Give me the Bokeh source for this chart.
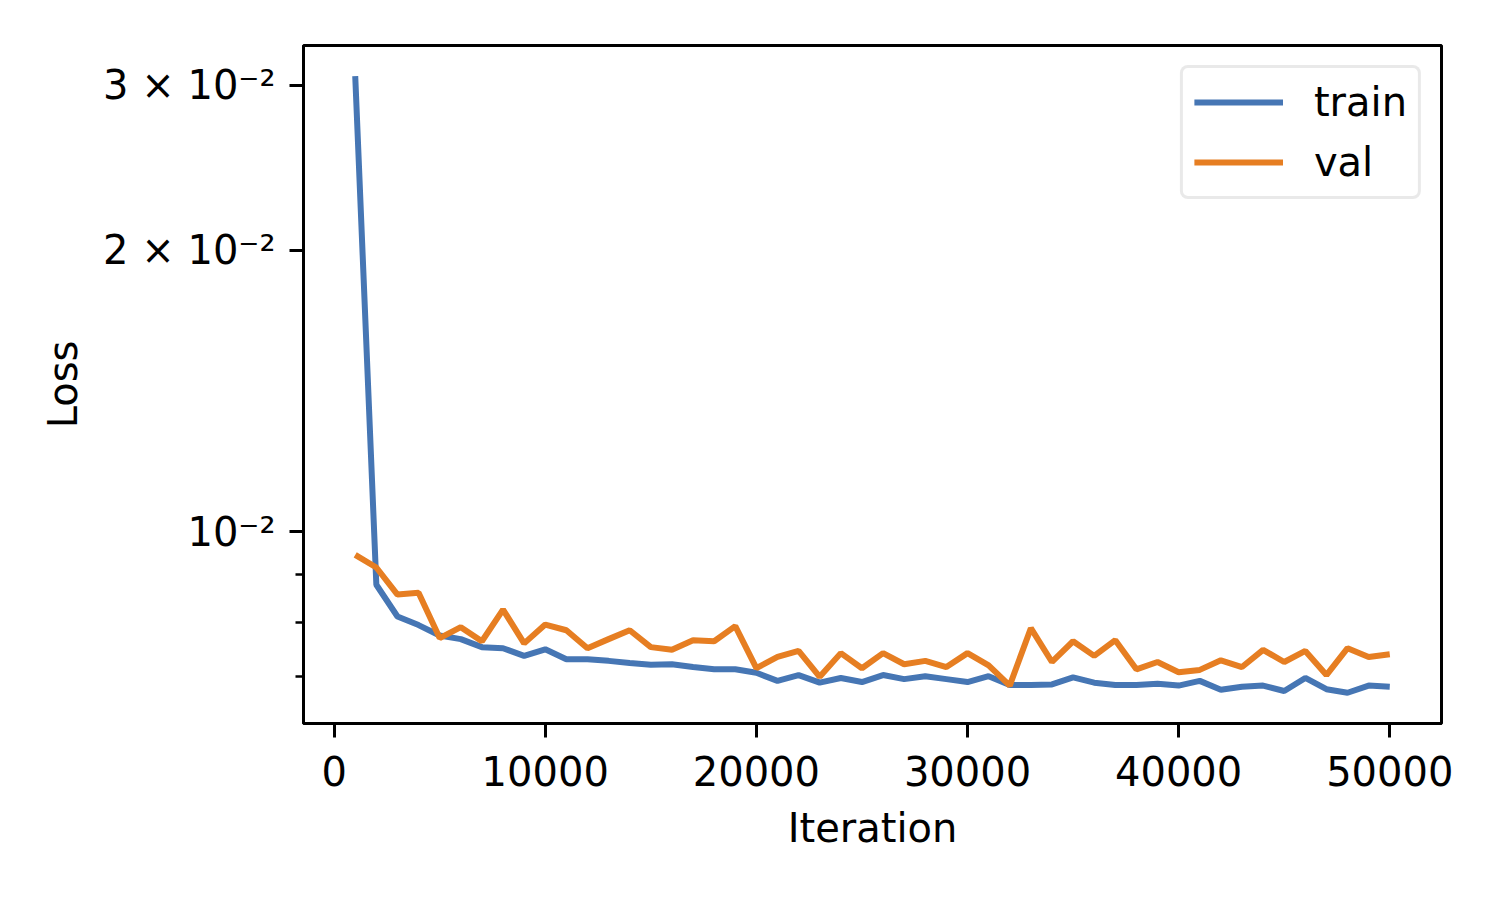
from bokeh.plotting import figure
from bokeh.models import (Range1d, FixedTicker, CustomJSTickFormatter, Legend, LegendItem)
from bokeh.embed import file_html
from bokeh.resources import INLINE

iterations = [1000, 2000, 3000, 4000, 5000, 6000, 7000, 8000, 9000, 10000,
              11000, 12000, 13000, 14000, 15000, 16000, 17000, 18000, 19000, 20000,
              21000, 22000, 23000, 24000, 25000, 26000, 27000, 28000, 29000, 30000,
              31000, 32000, 33000, 34000, 35000, 36000, 37000, 38000, 39000, 40000,
              41000, 42000, 43000, 44000, 45000, 46000, 47000, 48000, 49000, 50000]

train_loss = [0.0307, 0.00878, 0.00812, 0.00795, 0.00775, 0.00768, 0.00753, 0.00751, 0.00737, 0.00749,
              0.00731, 0.00731, 0.00728, 0.00724, 0.00721, 0.00722, 0.00717, 0.00713, 0.00713, 0.00707,
              0.00693, 0.00703, 0.00690, 0.00698, 0.00691, 0.00703, 0.00696, 0.00701, 0.00696, 0.00691,
              0.00701, 0.00686, 0.00686, 0.00687, 0.00699, 0.00690, 0.00686, 0.00686, 0.00688, 0.00685,
              0.00693, 0.00678, 0.00683, 0.00685, 0.00676, 0.00698, 0.00679, 0.00673, 0.00685, 0.00683]

val_loss = [0.00945, 0.00916, 0.00857, 0.00861, 0.00770, 0.00791, 0.00764, 0.00826, 0.00760, 0.00796,
            0.00785, 0.00751, 0.00768, 0.00785, 0.00753, 0.00748, 0.00766, 0.00764, 0.00793, 0.00715,
            0.00735, 0.00746, 0.00700, 0.00742, 0.00715, 0.00742, 0.00722, 0.00728, 0.00717, 0.00742,
            0.00720, 0.00685, 0.00789, 0.00726, 0.00764, 0.00737, 0.00766, 0.00713, 0.00726, 0.00708,
            0.00712, 0.00729, 0.00717, 0.00748, 0.00726, 0.00746, 0.00703, 0.00751, 0.00735, 0.00740]

x_ticks = [0, 10000, 20000, 30000, 40000, 50000]
y_major_ticks = [0.01, 0.02, 0.03]
y_major_labels = ["10\u207b\u00b2", "2 \u00d7 10\u207b\u00b2", "3 \u00d7 10\u207b\u00b2"]
y_minor_ticks = [0.007, 0.008, 0.009]

FONT = "DejaVu Sans"
BLUE = "#4676b4"
ORANGE = "#e67e22"

p = figure(width=1500, height=900, y_axis_type="log",
           x_range=Range1d(-1450, 52450), y_range=Range1d(0.00624, 0.0331),
           output_backend="svg", toolbar_location=None,
           min_border_left=303, min_border_right=59, min_border_top=45, min_border_bottom=177,
           background_fill_color="white", border_fill_color="white")

p.grid.visible = False
p.outline_line_color = "black"
p.outline_line_width = 3

r1 = p.line(iterations, train_loss, line_color=BLUE, line_width=6)
r2 = p.line(iterations, val_loss, line_color=ORANGE, line_width=6)

xa = p.xaxis[0]
xa.ticker = FixedTicker(ticks=x_ticks, minor_ticks=[])
ya = p.yaxis[0]
ya.ticker = FixedTicker(ticks=y_major_ticks, minor_ticks=y_minor_ticks)
ya.formatter = CustomJSTickFormatter(args=dict(vals=y_major_ticks, labs=y_major_labels), code="""
for (let i = 0; i < vals.length; i++) {
  if (Math.abs(tick - vals[i]) < 1e-9) { return labs[i]; }
}
return "";
""")

for ax in (xa, ya):
    ax.axis_line_width = 3
    ax.axis_line_color = "black"
    ax.major_tick_line_width = 3
    ax.major_tick_out = 14
    ax.major_tick_in = 0
    ax.minor_tick_line_width = 2.5
    ax.minor_tick_out = 8
    ax.minor_tick_in = 0
    ax.major_label_text_font = FONT
    ax.major_label_text_font_size = "40px"
    ax.major_label_text_color = "black"
    ax.axis_label_text_font = FONT
    ax.axis_label_text_font_size = "40px"
    ax.axis_label_text_font_style = "normal"
    ax.axis_label_text_color = "black"

xa.axis_label = "Iteration"
xa.major_label_standoff = 18
xa.axis_label_standoff = 16
ya.axis_label = "Loss"
ya.major_label_standoff = 14
ya.axis_label_standoff = 14

legend = Legend(items=[LegendItem(label="train", renderers=[r1]),
                       LegendItem(label="val", renderers=[r2])],
                location="top_right", margin=20, padding=11, spacing=14,
                glyph_width=89, glyph_height=40, label_height=40, label_standoff=31,
                label_text_font=FONT, label_text_font_size="40px", label_text_color="black",
                background_fill_color="white", background_fill_alpha=0.8,
                border_line_color="#d4d4d4", border_line_width=3)
if "border_radius" in Legend.properties():
    legend.border_radius = 8
p.add_layout(legend)

open("out.html", "w").write(file_html(p, INLINE))
